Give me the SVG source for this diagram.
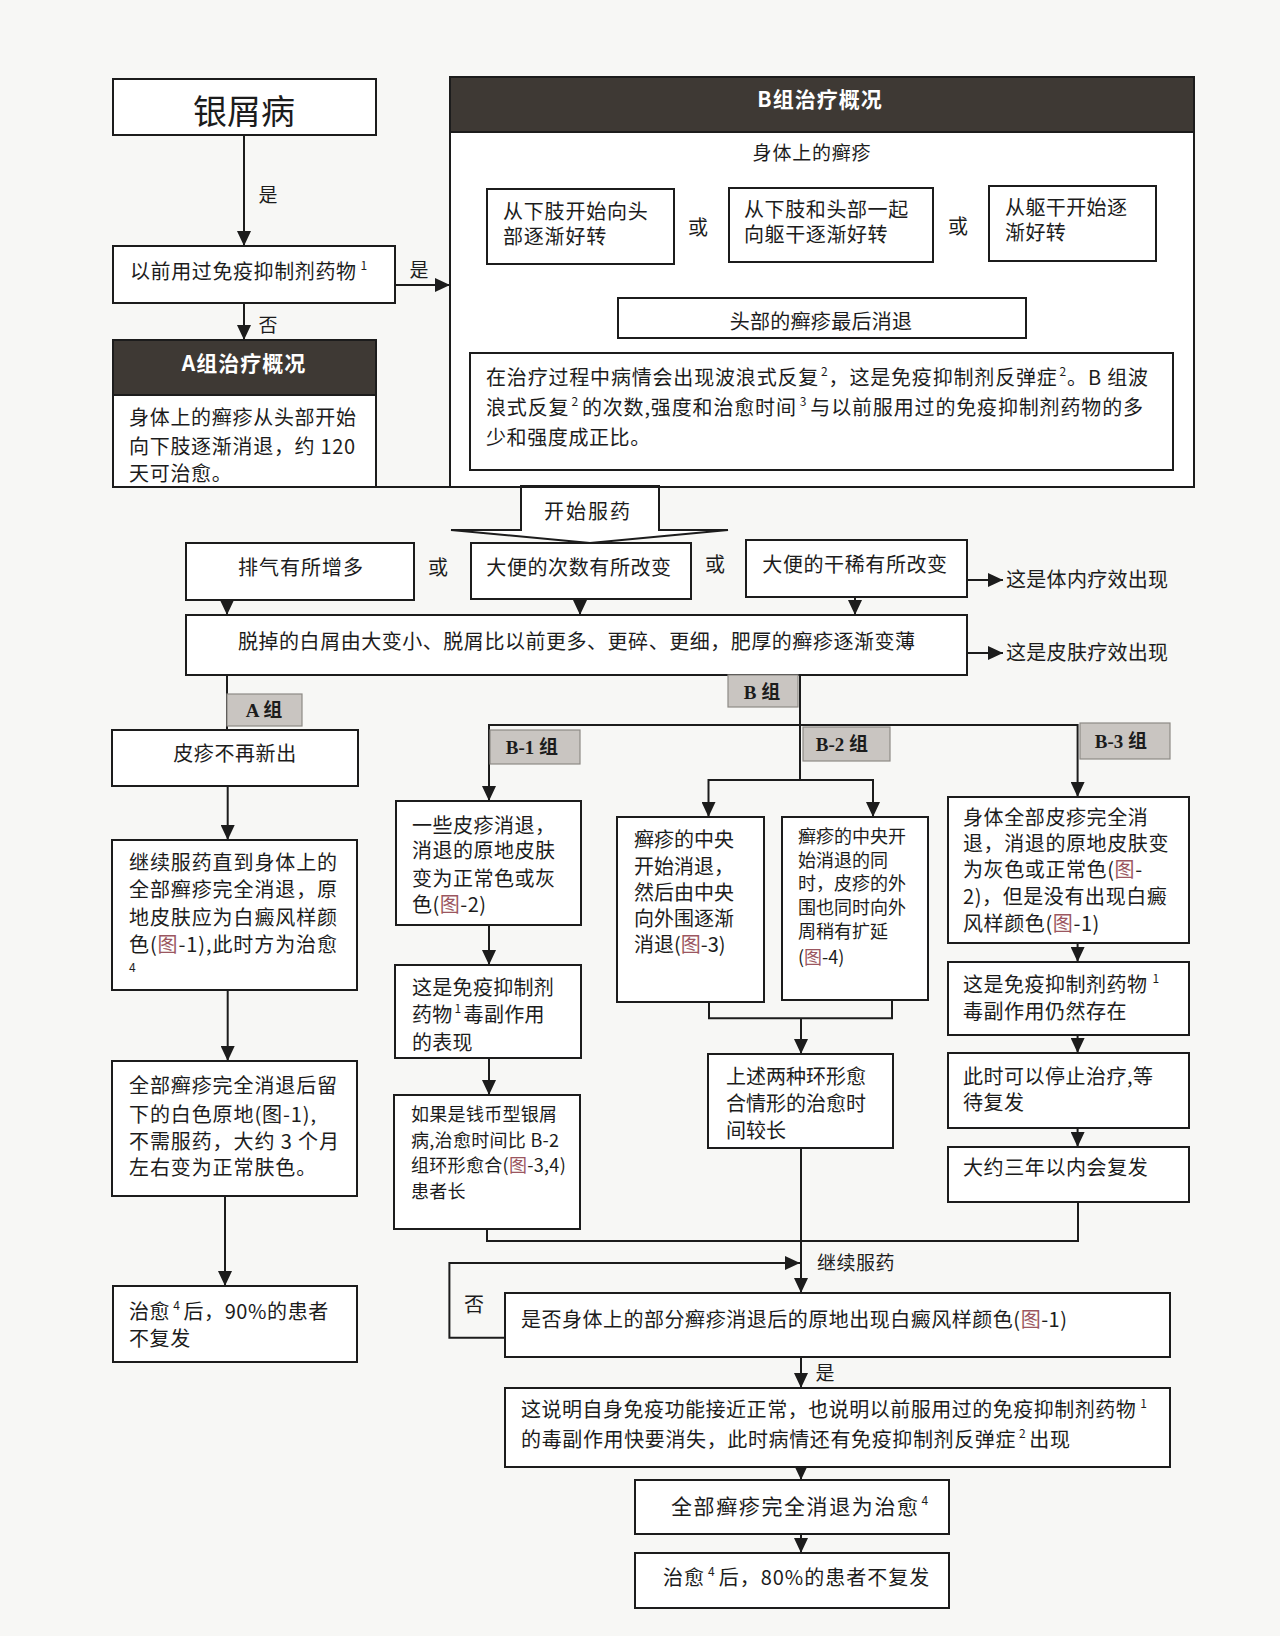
<svg xmlns="http://www.w3.org/2000/svg" width="1280" height="1636" viewBox="0 0 1280 1636">
<defs>
<style>
.bg{fill:#f7f7f5}
.box{fill:#fff;stroke:#1c1c1c;stroke-width:2}
.hdr{fill:#3e3934;stroke:#1c1c1c;stroke-width:2}
.tag{fill:#c9c5c1;stroke:#8e8a86;stroke-width:1.2}
.ln{fill:none;stroke:#1c1c1c;stroke-width:2}
.ar{fill:none;stroke:#1c1c1c;stroke-width:2;marker-end:url(#ah)}
text{font-family:"Noto Sans CJK SC","Noto Sans",sans-serif;fill:#1c1c1c}
.t20{font-size:20px}
.t19{font-size:19px}
.t18{font-size:18px}
.sup{font-size:12px}
.ht{font-size:21px;font-weight:bold;fill:#fff}
.tg{font-family:"Liberation Serif","Noto Sans CJK SC",serif;font-size:19px;font-weight:bold}
.fig{fill:#9b5660}
.c{text-anchor:middle}
</style>
<marker id="ah" viewBox="0 0 15 14" refX="15" refY="7" markerWidth="15" markerHeight="14" orient="auto" markerUnits="userSpaceOnUse">
<path d="M0,0 L15,7 L0,14 z" fill="#1c1c1c"/>
</marker>
</defs>
<rect class="bg" x="0" y="0" width="1280" height="1636"/>

<g id="connectors">
<line class="ar" x1="244" y1="135" x2="244" y2="246"/>
<line class="ar" x1="395" y1="285" x2="450" y2="285"/>
<line class="ar" x1="244" y1="303" x2="244" y2="340"/>
<line class="ln" x1="580.6" y1="168.3" x2="1063" y2="168.3"/>
<line class="ar" x1="580.6" y1="167.3" x2="580.6" y2="189"/>
<line class="ar" x1="823" y1="167.3" x2="823" y2="188"/>
<line class="ar" x1="1063" y1="167.3" x2="1063" y2="186"/>
<polyline class="ln" points="562.6,264 562.6,281.7 1082,281.7 1082,261"/>
<line class="ar" x1="823" y1="281.7" x2="823" y2="298"/>
<line class="ar" x1="823" y1="338" x2="823" y2="353"/>
<line class="ln" x1="376" y1="487" x2="450" y2="487"/>
<line class="ar" x1="967" y1="580" x2="1003" y2="580"/>
<line class="ar" x1="227" y1="600" x2="227" y2="615"/>
<line class="ar" x1="580" y1="599" x2="580" y2="615"/>
<line class="ar" x1="855" y1="597" x2="855" y2="615"/>
<line class="ar" x1="967" y1="653" x2="1003" y2="653"/>
<line class="ln" x1="227" y1="675" x2="227" y2="730"/>
<line class="ln" x1="800" y1="675" x2="800" y2="780"/>
<line class="ln" x1="489" y1="725" x2="1078" y2="725"/>
<line class="ar" x1="489" y1="724" x2="489" y2="801"/>
<line class="ar" x1="1077.6" y1="724" x2="1077.6" y2="797"/>
<line class="ln" x1="708.5" y1="780" x2="873" y2="780"/>
<line class="ar" x1="708.5" y1="779" x2="708.5" y2="817"/>
<line class="ar" x1="873" y1="779" x2="873" y2="817"/>
<polyline class="ln" points="709,1002 709,1018.3 892,1018.3 892,1000"/>
<line class="ar" x1="801" y1="1018.3" x2="801" y2="1054"/>
<line class="ar" x1="227.7" y1="786" x2="227.7" y2="840"/>
<line class="ar" x1="227.7" y1="990" x2="227.7" y2="1061"/>
<line class="ar" x1="225" y1="1196" x2="225" y2="1286"/>
<line class="ar" x1="489" y1="925" x2="489" y2="965"/>
<line class="ar" x1="489" y1="1058" x2="489" y2="1095"/>
<line class="ar" x1="1077.6" y1="943" x2="1077.6" y2="962"/>
<line class="ar" x1="1077.6" y1="1035" x2="1077.6" y2="1053"/>
<line class="ar" x1="1077.6" y1="1128" x2="1077.6" y2="1147"/>
<polyline class="ln" points="487,1229 487,1241 1078,1241 1078,1202"/>
<line class="ar" x1="801" y1="1148" x2="801" y2="1293"/>
<polyline class="ar" points="505,1337.7 449.4,1337.7 449.4,1263 800,1263"/>
<line class="ar" x1="801" y1="1357" x2="801" y2="1388"/>
<line class="ar" x1="801" y1="1467" x2="801" y2="1480"/>
<line class="ar" x1="801" y1="1534" x2="801" y2="1553"/>
<text class="t19 c" x="268" y="202">是</text>
<text class="t19 c" x="419" y="277">是</text>
<text class="t19 c" x="268" y="332">否</text>
<text class="t20 c" x="474" y="1312">否</text>
<text class="t19 c" x="825" y="1380">是</text>
<text class="t19" x="817" y="1270" letter-spacing="0.5">继续服药</text>
<text class="t20" x="1006" y="587" letter-spacing="0.3">这是体内疗效出现</text>
<text class="t20" x="1006" y="660" letter-spacing="0.3">这是皮肤疗效出现</text>
</g>

<g id="n-psoriasis">
<rect class="box" x="113" y="79" width="263" height="56"/>
<text class="c" x="244" y="124" font-size="34">银屑病</text>
</g>

<g id="n-prior">
<rect class="box" x="113" y="246" width="282" height="57"/>
<text class="t20" x="130" y="279" letter-spacing="0.6">以前用过免疫抑制剂药物<tspan class="sup" dx="4" dy="-9">1</tspan></text>
</g>

<g id="n-groupA">
<rect class="box" x="113" y="340" width="263" height="147"/>
<rect class="hdr" x="113" y="340" width="263" height="55"/>
<text class="ht c" x="244" y="371" letter-spacing="1">A组治疗概况</text>
<text class="t20" x="129" y="425" letter-spacing="0.7">身体上的癣疹从头部开始</text>
<text class="t20" x="129" y="454" letter-spacing="0.7">向下肢逐渐消退，约 120</text>
<text class="t20" x="129" y="481" letter-spacing="0.7">天可治愈。</text>
</g>

<g id="n-groupB">
<rect class="box" x="450" y="77" width="744" height="410"/>
<rect class="hdr" x="450" y="77" width="744" height="55"/>
<text class="ht c" x="820" y="107" letter-spacing="1">B组治疗概况</text>
<text class="t19 c" x="812" y="160" letter-spacing="0.8">身体上的癣疹</text>
<rect class="box" x="487" y="189" width="187" height="75"/>
<text class="t20" x="503" y="219" letter-spacing="0.8">从下肢开始向头</text>
<text class="t20" x="503" y="244" letter-spacing="0.8">部逐渐好转</text>
<text class="t20 c" x="698" y="235">或</text>
<rect class="box" x="729" y="188" width="204" height="74"/>
<text class="t20" x="744" y="217" letter-spacing="0.6">从下肢和头部一起</text>
<text class="t20" x="744" y="242" letter-spacing="0.6">向躯干逐渐好转</text>
<text class="t20 c" x="958" y="234">或</text>
<rect class="box" x="989" y="186" width="167" height="75"/>
<text class="t20" x="1005" y="215" letter-spacing="0.4">从躯干开始逐</text>
<text class="t20" x="1005" y="240" letter-spacing="0.4">渐好转</text>
<rect class="box" x="618" y="298" width="408" height="40"/>
<text class="t20 c" x="821" y="329" letter-spacing="0.3">头部的癣疹最后消退</text>
<rect class="box" x="470" y="353" width="703" height="117"/>
<text class="t20" x="486" y="385" textLength="662">在治疗过程中病情会出现波浪式反复<tspan class="sup" dx="2" dy="-9">2</tspan><tspan dy="9">，这是免疫抑制剂反弹症</tspan><tspan class="sup" dx="2" dy="-9">2</tspan><tspan dy="9">。B 组波</tspan></text>
<text class="t20" x="486" y="415" textLength="657">浪式反复<tspan class="sup" dx="2" dy="-9">2</tspan><tspan dx="3" dy="9">的次数,强度和治愈时间</tspan><tspan class="sup" dx="3" dy="-9">3</tspan><tspan dx="3" dy="9">与以前服用过的免疫抑制剂药物的多</tspan></text>
<text class="t20" x="486" y="445" letter-spacing="0.6">少和强度成正比。</text>
</g>

<g id="n-start">
<polygon points="521,486 521,530 451,530 590,543 728,530 659,530 659,486" fill="#fff" stroke="#1c1c1c" stroke-width="2"/>
<line x1="521" y1="487" x2="659" y2="487" stroke="#1c1c1c" stroke-width="2"/>
<text class="t20 c" x="588" y="519" letter-spacing="2">开始服药</text>
</g>

<g id="n-gas">
<rect class="box" x="186" y="543" width="228" height="57"/>
<text class="t20 c" x="301" y="575" letter-spacing="1">排气有所增多</text>
</g>
<text class="t20 c" x="438" y="575">或</text>
<g id="n-freq">
<rect class="box" x="471" y="543" width="220" height="56"/>
<text class="t20 c" x="579" y="575" letter-spacing="0.6">大便的次数有所改变</text>
</g>
<text class="t20 c" x="715" y="572">或</text>
<g id="n-consist">
<rect class="box" x="746" y="540" width="221" height="57"/>
<text class="t20 c" x="855" y="572" letter-spacing="0.6">大便的干稀有所改变</text>
</g>

<g id="n-scale">
<rect class="box" x="186" y="615" width="781" height="60"/>
<text class="t20" x="238" y="649" textLength="677">脱掉的白屑由大变小、脱屑比以前更多、更碎、更细，肥厚的癣疹逐渐变薄</text>
</g>

<g id="tag-A">
<rect class="tag" x="227" y="694" width="75" height="32"/>
<text class="tg c" x="264" y="717">A 组</text>
</g>
<g id="tag-B">
<rect class="tag" x="728" y="675" width="70" height="32"/>
<text class="tg c" x="762" y="699">B 组</text>
</g>
<g id="tag-B1">
<rect class="tag" x="490" y="730" width="90" height="34"/>
<text class="tg c" x="532" y="754">B-1 组</text>
</g>
<g id="tag-B2">
<rect class="tag" x="803" y="727" width="87" height="34"/>
<text class="tg c" x="842" y="751">B-2 组</text>
</g>
<g id="tag-B3">
<rect class="tag" x="1080" y="723" width="90" height="36"/>
<text class="tg c" x="1121" y="748">B-3 组</text>
</g>

<g id="n-a1">
<rect class="box" x="112" y="730" width="246" height="56"/>
<text class="t20 c" x="235" y="761" letter-spacing="0.6">皮疹不再新出</text>
</g>
<g id="n-a2">
<rect class="box" x="112" y="840" width="245" height="150"/>
<text class="t20" x="129" y="870" letter-spacing="0.9">继续服药直到身体上的</text>
<text class="t20" x="129" y="897" letter-spacing="0.9">全部癣疹完全消退，原</text>
<text class="t20" x="129" y="925" letter-spacing="0.9">地皮肤应为白癜风样颜</text>
<text class="t20" x="129" y="952" letter-spacing="0.9">色(<tspan class="fig">图</tspan>-1),此时方为治愈</text>
<text class="sup" x="129" y="972">4</text>
</g>
<g id="n-a3">
<rect class="box" x="112" y="1061" width="245" height="135"/>
<text class="t20" x="129" y="1093" letter-spacing="0.9">全部癣疹完全消退后留</text>
<text class="t20" x="129" y="1122" letter-spacing="0.9">下的白色原地(图-1),</text>
<text class="t20" x="129" y="1149" letter-spacing="0.9">不需服药，大约 3 个月</text>
<text class="t20" x="129" y="1175" letter-spacing="0.9">左右变为正常肤色。</text>
</g>
<g id="n-a4">
<rect class="box" x="113" y="1286" width="244" height="76"/>
<text class="t20" x="129" y="1319" letter-spacing="0.6">治愈<tspan class="sup" dx="3" dy="-9">4</tspan><tspan dx="3" dy="9">后，90%的患者</tspan></text>
<text class="t20" x="129" y="1346" letter-spacing="0.6">不复发</text>
</g>

<g id="n-b1a">
<rect class="box" x="396" y="801" width="185" height="124"/>
<text class="t20" x="412" y="833" letter-spacing="0.5">一些皮疹消退，</text>
<text class="t20" x="412" y="858" letter-spacing="0.5">消退的原地皮肤</text>
<text class="t20" x="412" y="886" letter-spacing="0.5">变为正常色或灰</text>
<text class="t20" x="412" y="912" letter-spacing="0.5">色(<tspan class="fig">图</tspan>-2)</text>
</g>
<g id="n-b1b">
<rect class="box" x="395" y="965" width="186" height="93"/>
<text class="t20" x="412" y="995" letter-spacing="0.3">这是免疫抑制剂</text>
<text class="t20" x="412" y="1022" letter-spacing="0.3">药物<tspan class="sup" dx="2" dy="-9">1</tspan><tspan dx="2" dy="9">毒副作用</tspan></text>
<text class="t20" x="412" y="1050" letter-spacing="0.3">的表现</text>
</g>
<g id="n-b1c">
<rect class="box" x="394" y="1095" width="186" height="134"/>
<text class="t18" x="411" y="1121" letter-spacing="0.3">如果是钱币型银屑</text>
<text class="t18" x="411" y="1147" letter-spacing="0.3">病,治愈时间比 B-2</text>
<text class="t18" x="411" y="1172" letter-spacing="0.3">组环形愈合(<tspan class="fig">图</tspan>-3,4)</text>
<text class="t18" x="411" y="1198" letter-spacing="0.3">患者长</text>
</g>

<g id="n-b2a">
<rect class="box" x="617" y="817" width="147" height="185"/>
<text class="t20" x="634" y="847">癣疹的中央</text>
<text class="t20" x="634" y="874">开始消退，</text>
<text class="t20" x="634" y="900">然后由中央</text>
<text class="t20" x="634" y="926">向外围逐渐</text>
<text class="t20" x="634" y="952">消退(<tspan class="fig">图</tspan>-3)</text>
</g>
<g id="n-b2b">
<rect class="box" x="782" y="817" width="146" height="183"/>
<text class="t18" x="798" y="843">癣疹的中央开</text>
<text class="t18" x="798" y="867">始消退的同</text>
<text class="t18" x="798" y="890">时，皮疹的外</text>
<text class="t18" x="798" y="914">围也同时向外</text>
<text class="t18" x="798" y="938">周稍有扩延</text>
<text class="t18" x="798" y="964">(<tspan class="fig">图</tspan>-4)</text>
</g>
<g id="n-b2c">
<rect class="box" x="708" y="1054" width="185" height="94"/>
<text class="t20" x="726" y="1084">上述两种环形愈</text>
<text class="t20" x="726" y="1111">合情形的治愈时</text>
<text class="t20" x="726" y="1138">间较长</text>
</g>

<g id="n-b3a">
<rect class="box" x="948" y="797" width="241" height="146"/>
<text class="t20" x="963" y="825" letter-spacing="0.6">身体全部皮疹完全消</text>
<text class="t20" x="963" y="851" letter-spacing="0.6">退，消退的原地皮肤变</text>
<text class="t20" x="963" y="877" letter-spacing="0.6">为灰色或正常色(<tspan class="fig">图</tspan>-</text>
<text class="t20" x="963" y="904" letter-spacing="0.6">2)，但是没有出现白癜</text>
<text class="t20" x="963" y="931" letter-spacing="0.6">风样颜色(<tspan class="fig">图</tspan>-1)</text>
</g>
<g id="n-b3b">
<rect class="box" x="948" y="962" width="241" height="73"/>
<text class="t20" x="963" y="992" letter-spacing="0.5">这是免疫抑制剂药物<tspan class="sup" dx="5" dy="-9">1</tspan></text>
<text class="t20" x="963" y="1019" letter-spacing="0.5">毒副作用仍然存在</text>
</g>
<g id="n-b3c">
<rect class="box" x="948" y="1053" width="241" height="75"/>
<text class="t20" x="963" y="1084" letter-spacing="0.5">此时可以停止治疗,等</text>
<text class="t20" x="963" y="1110" letter-spacing="0.5">待复发</text>
</g>
<g id="n-b3d">
<rect class="box" x="948" y="1147" width="241" height="55"/>
<text class="t20" x="963" y="1175" letter-spacing="0.6">大约三年以内会复发</text>
</g>

<g id="n-check">
<rect class="box" x="505" y="1293" width="665" height="64"/>
<text class="t20" x="521" y="1327" textLength="546">是否身体上的部分癣疹消退后的原地出现白癜风样颜色(<tspan class="fig">图</tspan>-1)</text>
</g>
<g id="n-explain">
<rect class="box" x="505" y="1388" width="665" height="79"/>
<text class="t20" x="521" y="1417" textLength="626">这说明自身免疫功能接近正常，也说明以前服用过的免疫抑制剂药物<tspan class="sup" dx="4" dy="-9">1</tspan></text>
<text class="t20" x="521" y="1447" textLength="549">的毒副作用快要消失，此时病情还有免疫抑制剂反弹症<tspan class="sup" dx="3" dy="-9">2</tspan><tspan dx="3" dy="9">出现</tspan></text>
</g>
<g id="n-cured">
<rect class="box" x="635" y="1480" width="314" height="54"/>
<text x="671" y="1514" font-size="21" letter-spacing="1.6">全部癣疹完全消退为治愈<tspan class="sup" dx="2" dy="-9">4</tspan></text>
</g>
<g id="n-after">
<rect class="box" x="635" y="1553" width="314" height="55"/>
<text class="t20" x="663" y="1585" letter-spacing="1">治愈<tspan class="sup" dx="3" dy="-9">4</tspan><tspan dx="3" dy="9">后，80%的患者不复发</tspan></text>
</g>
</svg>
